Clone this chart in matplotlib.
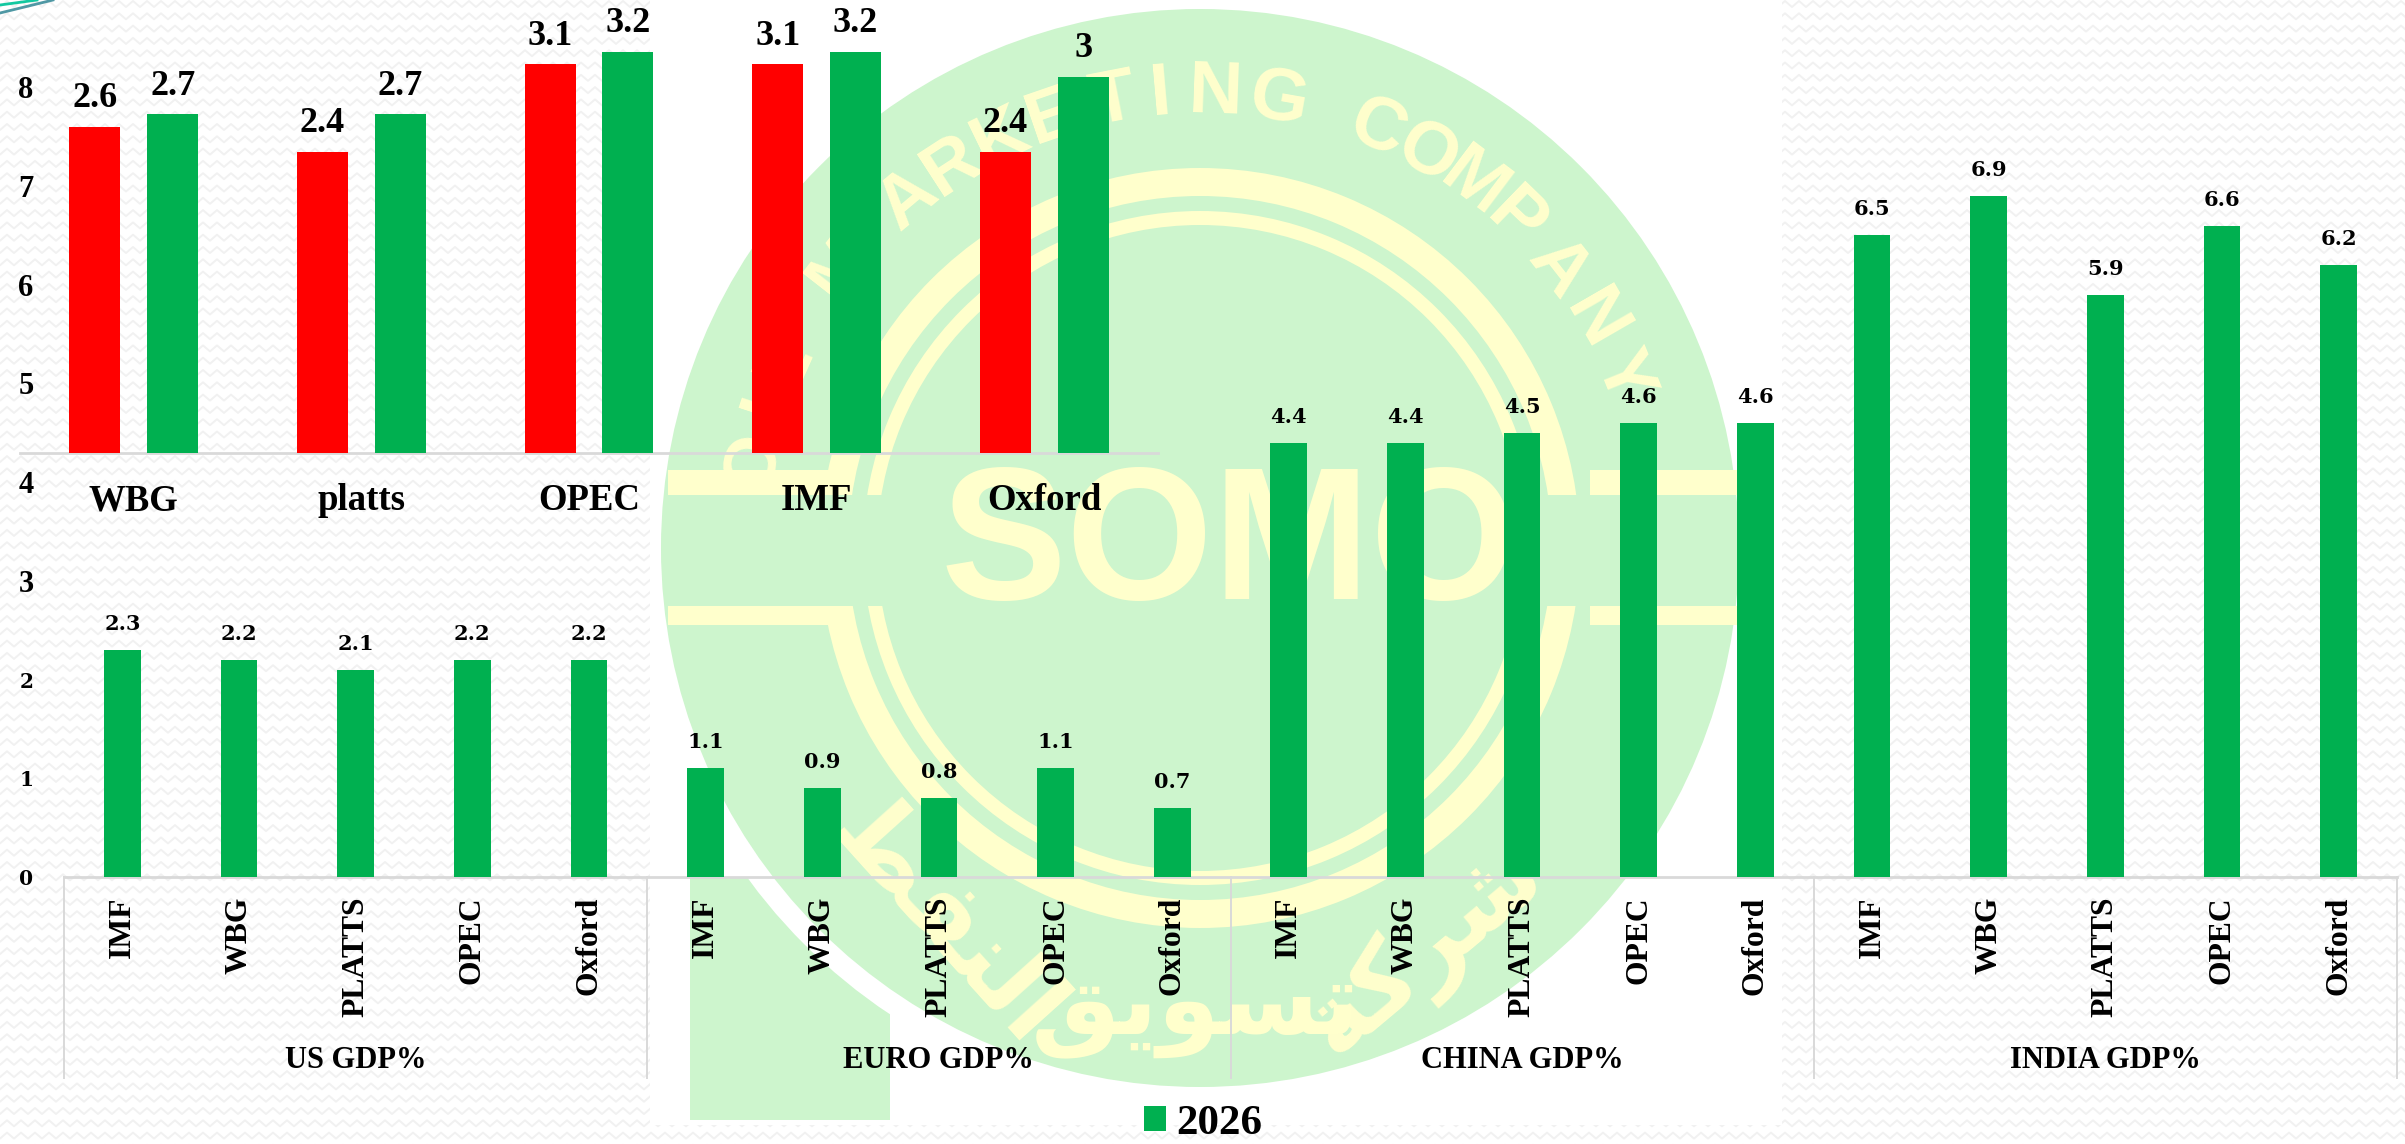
import numpy as np
import matplotlib
matplotlib.use("Agg")
import matplotlib.pyplot as plt
from matplotlib.collections import LineCollection
from matplotlib.patches import Circle, Rectangle, Wedge

# top chart, oil demand growth by source
top_cats = ["WBG", "platts", "OPEC", "IMF", "Oxford"]
top_2025 = [2.6, 2.4, 3.1, 3.1, 2.4]
top_2026 = [2.7, 2.7, 3.2, 3.2, 3.0]

# main chart, GDP by region and source
sources = ["IMF", "WBG", "PLATTS", "OPEC", "Oxford"]
regions = ["US GDP%", "EURO GDP%", "CHINA GDP%", "INDIA GDP%"]
us_gdp = [2.3, 2.2, 2.1, 2.2, 2.2]
euro_gdp = [1.1, 0.9, 0.8, 1.1, 0.7]
china_gdp = [4.4, 4.4, 4.5, 4.6, 4.6]
india_gdp = [6.5, 6.9, 5.9, 6.6, 6.2]
y_ticks = [0, 1, 2, 3, 4, 5, 6, 7, 8]

W, H = 2405, 1144
GREEN = "#00B050"
RED = "#FF0000"
WM_GREEN = "#CDF5CD"
WM_YELLOW = "#FFFFCC"
GRID = "#D9D9D9"
SERIF = "Liberation Serif"
OLD = "DejaVu Serif"


def px_axes(left, right, top, bottom):
    return fig.add_axes([left / W, 1 - bottom / H, (right - left) / W, (bottom - top) / H])


fig = plt.figure(figsize=(W / 100, H / 100), dpi=100, facecolor="white")

# background layer in pixel coordinates
bg = fig.add_axes([0, 0, 1, 1])
bg.set_xlim(0, W)
bg.set_ylim(H, 0)
bg.axis("off")

# faint zigzag paper texture
xs = np.arange(-14, W + 14, 7)
rows = []
for y0 in np.arange(4, H + 12, 12.3):
    rows.append(np.column_stack([xs, y0 + 3 * (-1.0) ** (np.arange(len(xs)))]))
bg.add_collection(LineCollection(rows, colors="#F1F1F1", linewidths=1.4, zorder=1))
bg.add_patch(Rectangle((650, 0), 1132, 1125, fc="white", ec="none", zorder=2))

# corner swooshes
bg.plot([0, 37], [5, 0], color="#12C8A0", lw=2, zorder=3)
bg.plot([0, 53], [13, 0], color="#4F98A4", lw=2, zorder=3)

# watermark
cx, cy = 1200, 548
foot = Rectangle((690, 877), 200, 243, fc=WM_GREEN, ec="none", zorder=3)
bg.add_patch(foot)
gap = Circle((cx, cy), 560, fc="white", ec="none", zorder=3.1)
bg.add_patch(gap)
gap.set_clip_path(foot)
bg.add_patch(Circle((cx, cy), 539, fc=WM_GREEN, ec="none", zorder=3.2))
bg.add_patch(Wedge((cx, cy), 380, 0, 360, width=28, fc=WM_YELLOW, ec="none", zorder=3.3))
bg.add_patch(Wedge((cx, cy), 337, 0, 360, width=14, fc=WM_YELLOW, ec="none", zorder=3.3))
bg.add_patch(Rectangle((815, 495), 770, 111, fc=WM_GREEN, ec="none", zorder=3.4))
for x0, x1 in [(668, 845), (1590, 1738)]:
    bg.add_patch(Rectangle((x0, 470), x1 - x0, 25, fc=WM_YELLOW, ec="none", zorder=3.5))
    bg.add_patch(Rectangle((x0, 606), x1 - x0, 19, fc=WM_YELLOW, ec="none", zorder=3.5))
bg.text(1229, 550, "SOMO", fontsize=136, family="Liberation Sans", weight="bold",
        color=WM_YELLOW, ha="center", va="center", zorder=3.6)

arc_letters = "OIL MARKETING COMPANY"
arc_angles = [-79, -72, -66, 0, -52, -40, -33, -26, -19, -11, -5, 2, 10, 0, 23, 30, 37, 44, 52, 60, 68]
for ch, ang in zip(arc_letters, arc_angles):
    if ch == " ":
        continue
    a = np.radians(ang)
    bg.text(cx + 455 * np.sin(a), cy - 455 * np.cos(a), ch, fontsize=54, family="Liberation Sans",
            weight="bold", color=WM_YELLOW, rotation=-ang, rotation_mode="anchor",
            ha="center", va="center", zorder=3.6)

# arabic line along the lower rim, glyphs in visual order
arabic_words = ["\ufec2\ufed4\ufee8\ufedf\ufe8d", "\ufed6\ufef3\ufeee\ufeb4\ufe97", "\ufe94\ufedb\ufeae\ufeb7"]
arabic_pos = [(945, 925, -48), (1195, 1010, 0), (1425, 950, 40)]
for word, (wx, wy, rot) in zip(arabic_words, arabic_pos):
    bg.text(wx, wy, word, fontsize=72, family="DejaVu Sans", weight="bold", color=WM_YELLOW,
            rotation=rot, rotation_mode="anchor", ha="center", va="center", zorder=3.6)

# main chart
ax = px_axes(64, 2397, 877 - 98.7 * 8, 877)
ax.patch.set_alpha(0)
all_vals = us_gdp + euro_gdp + china_gdp + india_gdp
pos = np.arange(len(all_vals))
bars = ax.bar(pos, all_vals, width=0.315, color=GREEN, label="2026", zorder=3)
ax.set_xlim(-0.5, len(all_vals) - 0.5)
ax.set_ylim(0, 8)
for p, v in zip(pos, all_vals):
    ax.annotate(f"{v:g}", (p, v), xytext=(0, 14.4), textcoords="offset points", ha="center",
                va="baseline", fontsize=15, family=OLD, weight="bold", color="black")

ax.set_xticks(pos)
ax.set_xticklabels(sources * len(regions), rotation=90, fontsize=22.8, family=SERIF, weight="bold")
ax.tick_params(axis="x", length=0, pad=14)
ax.set_yticks(y_ticks)
ax.set_yticklabels([str(t) for t in y_ticks], fontsize=22, family=SERIF, weight="bold")
ax.tick_params(axis="y", length=0, pad=22)
for lab, t in zip(ax.get_yticklabels(), y_ticks):
    if t < 3:
        lab.set_family(OLD)
        lab.set_fontsize(14.5)

for s in ["top", "left", "right"]:
    ax.spines[s].set_visible(False)
ax.spines["bottom"].set_color(GRID)
ax.spines["bottom"].set_linewidth(2)

# multi level category dividers and names
tr = ax.get_xaxis_transform()
drop = -(1078 - 877) / (98.7 * 8)
n = len(sources)
for k in range(len(regions) + 1):
    ax.plot([k * n - 0.5] * 2, [0, drop], transform=tr, color=GRID, lw=1.4, clip_on=False)
for k, name in enumerate(regions):
    ax.text(k * n + (n - 1) / 2, -(1060 - 877) / (98.7 * 8), name, transform=tr, ha="center", va="center",
            fontsize=22, family=SERIF, weight="bold")

# top left inset
ins = px_axes(20, 1158, 452.5 - 125.3 * 3.6, 452.5)
ins.patch.set_alpha(0)
tp = np.arange(len(top_cats))
ins.bar(tp - 0.171, top_2025, width=0.224, color=RED, zorder=3)
ins.bar(tp + 0.171, top_2026, width=0.224, color=GREEN, zorder=3)
ins.set_xlim(-0.5, len(top_cats) - 0.5)
ins.set_ylim(0, 3.6)
for offs, vals in [(-0.171, top_2025), (0.171, top_2026)]:
    for p, v in zip(tp, vals):
        ins.annotate(f"{v:g}", (p + offs, v), xytext=(0, 14), textcoords="offset points", ha="center",
                     va="baseline", fontsize=26, family=SERIF, weight="bold", color="black")
ins.set_xticks(tp)
ins.set_xticklabels(top_cats, fontsize=26.5, family=SERIF, weight="bold")
ins.tick_params(axis="x", length=0, pad=22)
ins.set_yticks([])
for s in ["top", "left", "right"]:
    ins.spines[s].set_visible(False)
ins.spines["bottom"].set_color(GRID)
ins.spines["bottom"].set_linewidth(2)

# legend
fig.legend(handles=[bars], labels=["2026"], loc="center", bbox_to_anchor=(1203 / W, 1 - 1124 / H),
           frameon=False, handlelength=0.51, handleheight=0.51, handletextpad=0.23, borderpad=0, borderaxespad=0,
           prop={"family": SERIF, "weight": "bold", "size": 31})

fig.savefig("out.png", dpi=100)
